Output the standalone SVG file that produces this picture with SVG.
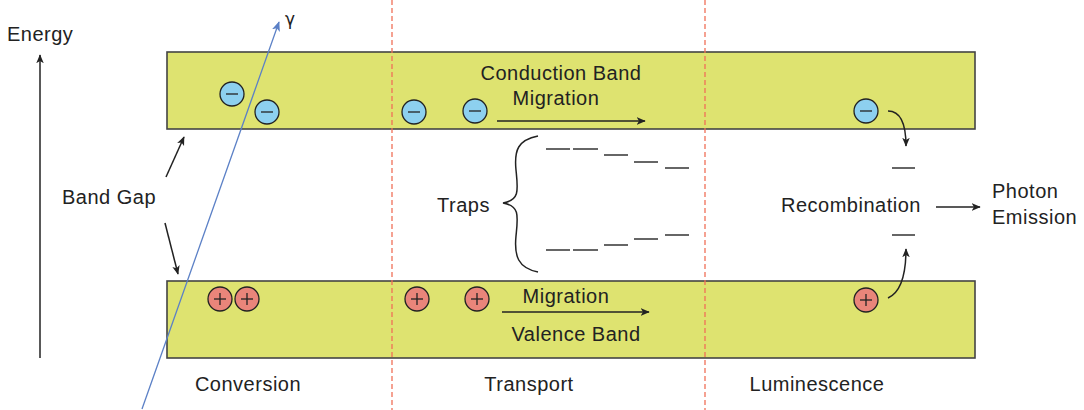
<svg xmlns="http://www.w3.org/2000/svg" width="1084" height="410" viewBox="0 0 1084 410">
<defs>
<style>
text{font-family:"Liberation Sans",Arial,sans-serif;font-size:20px;fill:#222;letter-spacing:0.5px}
.band{fill:#dee370;stroke:#444;stroke-width:1.6}
.e{fill:#8dd0ef;stroke:#222;stroke-width:1.3}
.h{fill:#e9857a;stroke:#222;stroke-width:1.3}
.sign{stroke:#222;stroke-width:1.3;fill:none}
.div{stroke:#f07058;stroke-width:1.3;stroke-dasharray:5,3;fill:none}
.ar{stroke:#222;stroke-width:1.5;fill:none;marker-end:url(#ah)}
.lvl{stroke:#333;stroke-width:1.5}
</style>
<marker id="ah" viewBox="0 0 12 10" refX="11" refY="5" markerWidth="9" markerHeight="8" markerUnits="userSpaceOnUse" orient="auto"><path d="M0,0 L12,5 L0,10 L3,5 Z" fill="#222"/></marker>
<marker id="ahb" viewBox="0 0 12 10" refX="11" refY="5" markerWidth="10" markerHeight="9" markerUnits="userSpaceOnUse" orient="auto"><path d="M0,0 L12,5 L0,10 L3,5 Z" fill="#5b80c6"/></marker>
<g id="eSym"><circle r="12" class="e"/><line x1="-6" y1="0" x2="6" y2="0" class="sign"/></g>
<g id="hSym"><circle r="12" class="h"/><line x1="-6" y1="0" x2="6" y2="0" class="sign"/><line x1="0" y1="-6" x2="0" y2="6" class="sign"/></g>
</defs>
<rect width="1084" height="410" fill="#fff"/>
<g id="conduction-band"><rect x="167" y="52" width="808" height="77" class="band"/></g>
<g id="valence-band"><rect x="167" y="281" width="808" height="77" class="band"/></g>
<g id="dividers">
<line x1="392" y1="0" x2="392" y2="410" class="div"/>
<line x1="705" y1="0" x2="705" y2="410" class="div"/>
</g>
<g id="electrons">
<use href="#eSym" x="232" y="94"/>
<use href="#eSym" x="267" y="112"/>
<use href="#eSym" x="414" y="112"/>
<use href="#eSym" x="475" y="111"/>
<use href="#eSym" x="866" y="111"/>
</g>
<g id="holes">
<use href="#hSym" x="220" y="299"/>
<use href="#hSym" x="247" y="299"/>
<use href="#hSym" x="417" y="299"/>
<use href="#hSym" x="477" y="299"/>
<use href="#hSym" x="866" y="300"/>
</g>
<g id="traps">
<path d="M538,136 C518,140 514,150 516,170 C518,190 520,200 503,203 C520,206 518,216 516,236 C514,256 518,268 538,272" fill="none" stroke="#222" stroke-width="1.5"/>
<g class="lvl">
<line x1="546" y1="149" x2="570" y2="149"/><line x1="573" y1="149" x2="598" y2="149"/><line x1="604" y1="155" x2="628" y2="155"/><line x1="634" y1="162" x2="658" y2="162"/><line x1="665" y1="168" x2="689" y2="168"/>
<line x1="546" y1="250" x2="570" y2="250"/><line x1="573" y1="250" x2="598" y2="250"/><line x1="604" y1="245" x2="628" y2="245"/><line x1="634" y1="239" x2="658" y2="239"/><line x1="665" y1="235" x2="689" y2="235"/>
<line x1="892" y1="168" x2="915" y2="168"/><line x1="892" y1="235" x2="915" y2="235"/>
</g>
</g>
<g id="connectors">
<line x1="40" y1="358" x2="40" y2="55" class="ar"/>
<line x1="166" y1="177" x2="184" y2="137" class="ar"/>
<line x1="165" y1="223" x2="178" y2="274" class="ar"/>
<line x1="497" y1="121" x2="645" y2="121" class="ar"/>
<line x1="502" y1="312" x2="649" y2="312" class="ar"/>
<line x1="936" y1="207" x2="980" y2="207" class="ar"/>
<path d="M888,111 Q906,111 906,146" class="ar"/>
<path d="M888,298 Q906,290 906,249" class="ar"/>
<line x1="142" y1="409" x2="279" y2="22" stroke="#5b80c6" stroke-width="1.3" marker-end="url(#ahb)"/>
</g>
<g id="labels">
<text x="7" y="41">Energy</text>
<text x="285" y="25" style="font-family:'DejaVu Sans',sans-serif;font-size:17px">γ</text>
<text x="62" y="204">Band Gap</text>
<text x="561" y="80" text-anchor="middle">Conduction Band</text>
<text x="556" y="105" text-anchor="middle">Migration</text>
<text x="566" y="303" text-anchor="middle">Migration</text>
<text x="576" y="341" text-anchor="middle">Valence Band</text>
<text x="437" y="212">Traps</text>
<text x="781" y="212">Recombination</text>
<text x="992" y="198">Photon</text>
<text x="992" y="224">Emission</text>
<text x="248" y="391" text-anchor="middle">Conversion</text>
<text x="529" y="391" text-anchor="middle">Transport</text>
<text x="817" y="391" text-anchor="middle">Luminescence</text>
</g>
</svg>
